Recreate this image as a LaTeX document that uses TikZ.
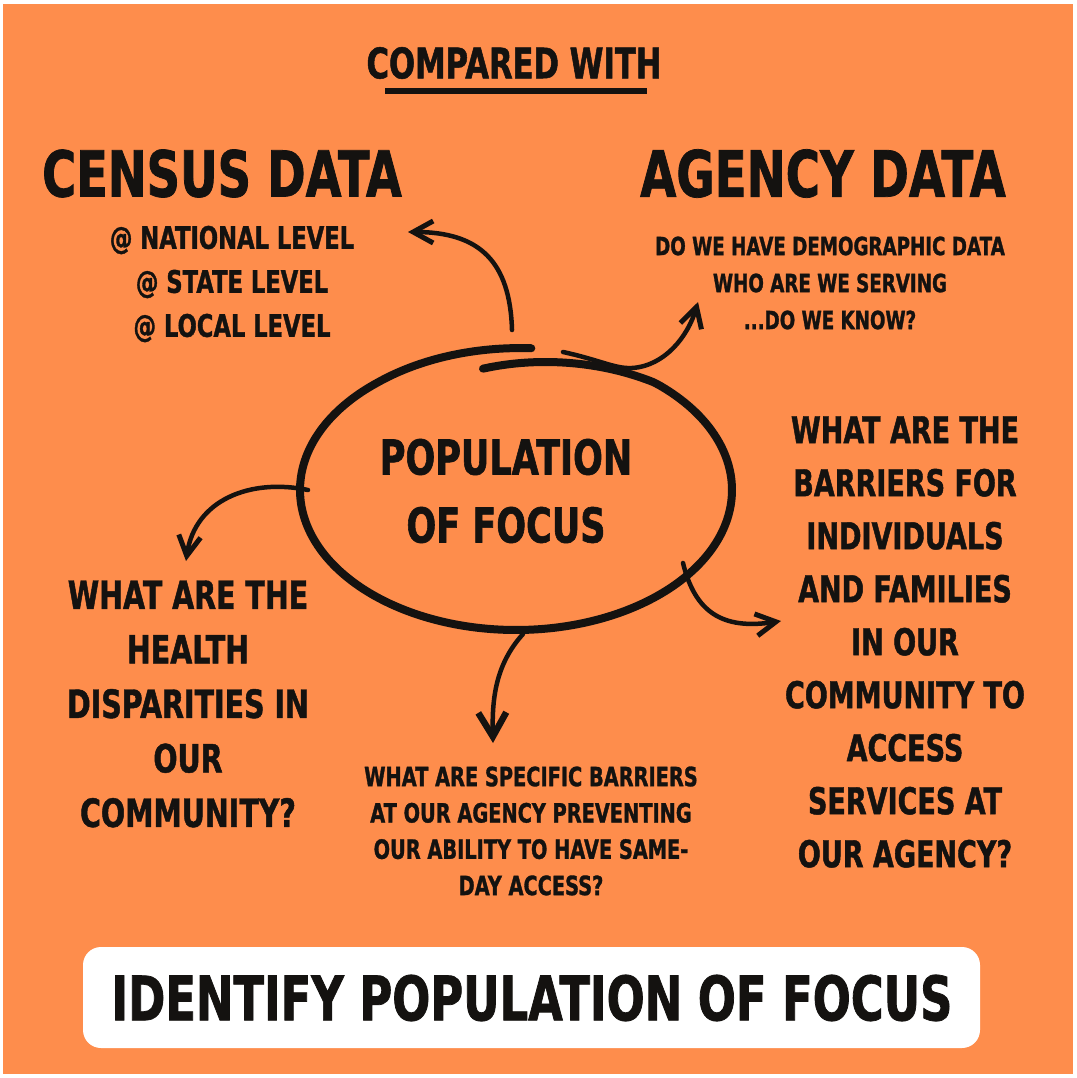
\documentclass[tikz,border=0pt]{standalone}
\usepackage{fontspec}
\usetikzlibrary{arrows.meta}
\newfontfamily\hand{DejaVu Sans}[FakeStretch=0.73,FakeBold=1.2]
\definecolor{bgorange}{RGB}{254,141,76}
\definecolor{ink}{RGB}{20,18,16}
\tikzset{
  txt/.style={inner sep=0pt, align=center, text=ink, font=\hand\bfseries},
  ring/.style={draw=ink, line width=8pt, line cap=round, line join=round},
  link/.style={draw=ink, line width=4.5pt, line cap=round,
    -{Straight Barb[length=20pt,width=22pt,line width=5pt]}},
}
\begin{document}
\begin{tikzpicture}[x=1pt,y=-1pt]
  \useasboundingbox (0,0) rectangle (1076,1078);
  % frame and background
  \fill[white] (0,0) rectangle (1076,1078);
  \fill[bgorange] (3,4) rectangle (1073,1074);

  % heading
  \node[txt, font=\hand\bfseries\fontsize{42}{50}\selectfont] (compared) at (514,63) {COMPARED WITH};
  \coordinate (ulL) at (385,91);
  \coordinate (ulR) at (647,91);
  \draw[ink, line width=6pt] (ulL) -- (ulR);

  % two data sources
  \node[txt, font=\hand\bfseries\fontsize{63.5}{70}\selectfont] (census) at (222,173.5) {CENSUS DATA};
  \node[txt, font=\hand\bfseries\fontsize{64}{70}\selectfont] (agency) at (823,173.5) {AGENCY DATA};
  \node[txt, font=\hand\bfseries\fontsize{31}{44}\selectfont] (levels) at (232,284)
    {@ NATIONAL LEVEL\\@ STATE LEVEL\\@ LOCAL LEVEL};
  \node[txt, font=\hand\bfseries\fontsize{25}{37}\selectfont] (demo) at (830,283)
    {DO WE HAVE DEMOGRAPHIC DATA\\WHO ARE WE SERVING\\...DO WE KNOW?};

  % central hand-drawn loop
  \draw[ring] plot[domain=-274:100, samples=160, smooth]
    ({516+216*(1-0.12*max(0,(\x-50)/50)+0.015*max(0,(-230-\x)/44))*cos(\x)},
     {490-140*(1-0.12*max(0,(\x-50)/50)+0.015*max(0,(-230-\x)/44))*sin(\x)});
  \node[txt, font=\hand\bfseries\fontsize{48}{68}\selectfont] (focus) at (506,491)
    {POPULATION\\OF FOCUS};

  % questions around the loop
  \node[txt, font=\hand\bfseries\fontsize{39}{54.5}\selectfont] (health) at (188,704)
    {WHAT ARE THE\\HEALTH\\DISPARITIES IN\\OUR\\COMMUNITY?};
  \node[txt, font=\hand\bfseries\fontsize{37}{53}\selectfont] (barriers) at (905,642)
    {WHAT ARE THE\\BARRIERS FOR\\INDIVIDUALS\\AND FAMILIES\\IN OUR\\COMMUNITY TO\\ACCESS\\SERVICES AT\\OUR AGENCY?};
  \node[txt, font=\hand\bfseries\fontsize{26.5}{36.3}\selectfont] (sameday) at (531,831)
    {WHAT ARE SPECIFIC BARRIERS\\AT OUR AGENCY PREVENTING\\OUR ABILITY TO HAVE SAME-\\DAY ACCESS?};

  % connector end points on the loop
  \coordinate (oTop) at (512,330);
  \coordinate (oTopR) at (563,352);
  \coordinate (oLeft) at (308,490);
  \coordinate (oBot) at (523,634);
  \coordinate (oRight) at (683,563);
  \coordinate (tCensus) at (408,232);
  \coordinate (tAgency) at (698,302);
  \coordinate (tHealth) at (186,561);
  \coordinate (tSame) at (493,743);
  \coordinate (tBarr) at (781,621);

  \draw[link] (oTop) .. controls (510,262) and (480,232) .. (tCensus);
  \draw[link] (oTopR) .. controls (600,360) and (615,369) .. (632,368)
                      .. controls (665,366) and (688,336) .. (tAgency);
  \draw[link] (oLeft) .. controls (250,478) and (195,500) .. (tHealth);
  \draw[link, -{Straight Barb[length=24pt,width=28pt,line width=6.5pt]}]
    (oBot) .. controls (495,665) and (492,700) .. (tSame);
  \draw[link] (oRight) .. controls (695,612) and (722,630) .. (tBarr);

  % banner
  \node[fill=white, rounded corners=18pt, minimum width=897pt, minimum height=101pt, inner sep=0pt]
    (banner) at (531.5,997.5) {};
  \node[txt, font=\hand\bfseries\fontsize{61.4}{70}\selectfont] (identify) at (532,998)
    {IDENTIFY POPULATION OF FOCUS};
\end{tikzpicture}
\end{document}
